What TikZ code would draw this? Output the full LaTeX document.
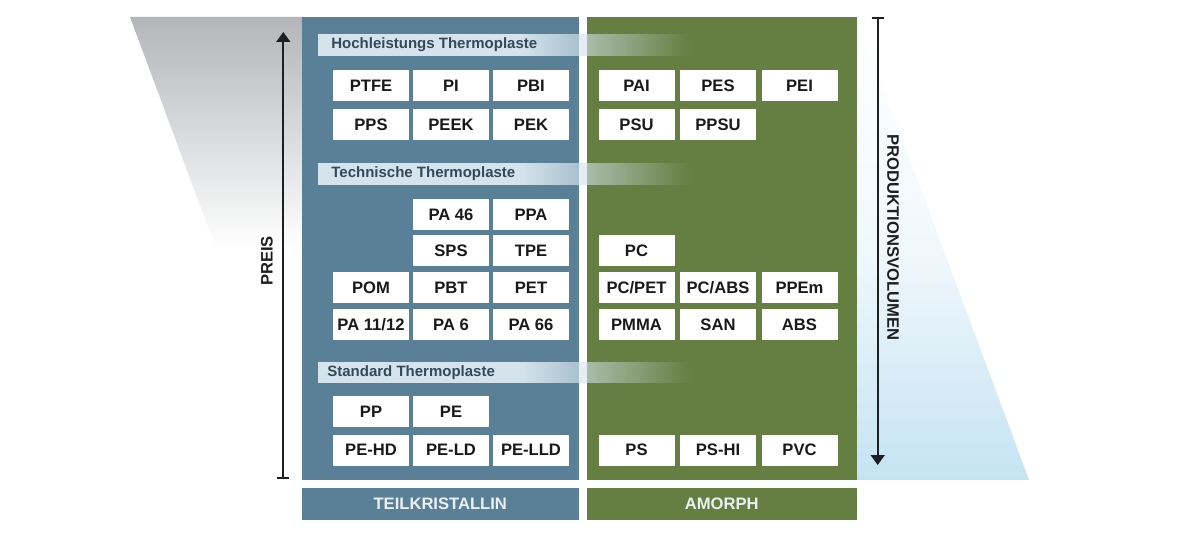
\documentclass[tikz,border=0pt]{standalone}
\usepackage{fontspec}
\setmainfont{Liberation Sans}
\usetikzlibrary{arrows.meta,fadings}
\definecolor{blaugrau}{HTML}{5A8098}
\definecolor{gruen}{HTML}{657F43}
\definecolor{bandhell}{HTML}{D5E4EC}
\definecolor{bandschrift}{HTML}{33495A}
\definecolor{hellblau}{HTML}{C5E3F3}
\definecolor{grau}{HTML}{B3B5B8}
\tikzfading[name=bandfade, left color=transparent!0, right color=transparent!100]
\tikzfading[name=preisfade, top color=transparent!0, bottom color=transparent!100, middle color=transparent!100]
\tikzfading[name=volfade, top color=transparent!100, bottom color=transparent!0, middle color=transparent!75]

\begin{document}
\begin{tikzpicture}[x=0.5pt, y=-0.5pt,
	box/.style={fill=white, minimum width=38pt, minimum height=15.5pt, inner sep=0pt, text=black!90, font=\bfseries\fontsize{8.3}{10}\selectfont},
	band/.style={fill=bandhell},
	bandlabel/.style={anchor=west, inner sep=0pt, text=bandschrift, font=\bfseries\fontsize{7.5}{9}\selectfont},
	klasse/.style={minimum height=16pt, inner sep=0pt, text=white!88!blaugrau, font=\bfseries\fontsize{8.3}{10}\selectfont},
	achse/.style={line width=0.9pt, draw=black!88},
	achsetext/.style={inner sep=0pt, text=black!88, font=\bfseries\fontsize{8.3}{10}\selectfont}]
	\useasboundingbox (0,0) rectangle (1200,534);
	% Hintergrund: Preis- und Volumenkeile
	\fill[grau, path fading=preisfade] (130,17) -- (302,17) -- (302,480) -- cycle;
	\fill[hellblau, path fading=volfade] (857,17) -- (857,480) -- (1029,480) -- cycle;
	\fill[blaugrau] (302,17) rectangle (578.5,480);
	\fill[gruen] (586.5,17) rectangle (857,480);
	% Baender
	\fill[band] (318,34) rectangle (520,56);
	\fill[band, path fading=bandfade] (520,34) rectangle (690,56);
	\node[bandlabel] (hoch) at (331,45) {Hochleistungs Thermoplaste};
	\fill[band] (318,163) rectangle (520,185);
	\fill[band, path fading=bandfade] (520,163) rectangle (690,185);
	\node[bandlabel] (technisch) at (331,174) {Technische Thermoplaste};
	\fill[band] (318,362) rectangle (520,383.5);
	\fill[band, path fading=bandfade] (520,362) rectangle (690,383.5);
	\node[bandlabel] (standard) at (327,372.5) {Standard Thermoplaste};
	% Hochleistungs
	\node[box] (ptfe) at (371,85.5) {PTFE};
	\node[box] (pi) at (451,85.5) {PI};
	\node[box] (pbi) at (531,85.5) {PBI};
	\node[box] (pai) at (636.5,85.5) {PAI};
	\node[box] (pes) at (718,85.5) {PES};
	\node[box] (pei) at (799.5,85.5) {PEI};
	\node[box] (pps) at (371,124.5) {PPS};
	\node[box] (peek) at (451,124.5) {PEEK};
	\node[box] (pek) at (531,124.5) {PEK};
	\node[box] (psu) at (636.5,124.5) {PSU};
	\node[box] (ppsu) at (718,124.5) {PPSU};
	% Technische
	\node[box] (pa46) at (451,214.5) {PA 46};
	\node[box] (ppa) at (531,214.5) {PPA};
	\node[box] (sps) at (451,251) {SPS};
	\node[box] (tpe) at (531,251) {TPE};
	\node[box] (pc) at (636.5,251) {PC};
	\node[box] (pom) at (371,287.5) {POM};
	\node[box] (pbt) at (451,287.5) {PBT};
	\node[box] (pet) at (531,287.5) {PET};
	\node[box] (pcpet) at (636.5,287.5) {PC/PET};
	\node[box] (pcabs) at (718,287.5) {PC/ABS};
	\node[box] (ppem) at (799.5,287.5) {PPEm};
	\node[box] (pa1112) at (371,324.5) {PA 11/12};
	\node[box] (pa6) at (451,324.5) {PA 6};
	\node[box] (pa66) at (531,324.5) {PA 66};
	\node[box] (pmma) at (636.5,324.5) {PMMA};
	\node[box] (san) at (718,324.5) {SAN};
	\node[box] (abs) at (799.5,324.5) {ABS};
	% Standard
	\node[box] (pp) at (371,411.5) {PP};
	\node[box] (pe) at (451,411.5) {PE};
	\node[box] (pehd) at (371,450) {PE-HD};
	\node[box] (peld) at (451,450) {PE-LD};
	\node[box] (pelld) at (531,450) {PE-LLD};
	\node[box] (ps) at (636.5,450) {PS};
	\node[box] (pshi) at (718,450) {PS-HI};
	\node[box] (pvc) at (799.5,450) {PVC};
	% Klassen
	\node[klasse, fill=blaugrau, minimum width=138.25pt] (teil) at (440.25,503.5) {TEILKRISTALLIN};
	\node[klasse, fill=gruen, minimum width=135.25pt] (amorph) at (721.75,503.5) {AMORPH};
	% Achsen
	\coordinate (preisfuss) at (283.3,479);
	\coordinate (preisspitze) at (283.3,32);
	\draw[achse, {Bar[width=6pt]}-{Triangle[width=7pt,length=5pt]}] (preisfuss) -- (preisspitze);
	\node[achsetext, rotate=90] (preis) at (267,261) {PREIS};
	\coordinate (volkopf) at (877.7,17.3);
	\coordinate (volfuss) at (877.7,465);
	\draw[achse, {Bar[width=6pt]}-{Triangle[width=7pt,length=5pt]}] (volkopf) -- (volfuss);
	\node[achsetext, rotate=-90] (volumen) at (893,237.5) {PRODUKTIONSVOLUMEN};
\end{tikzpicture}
\end{document}
